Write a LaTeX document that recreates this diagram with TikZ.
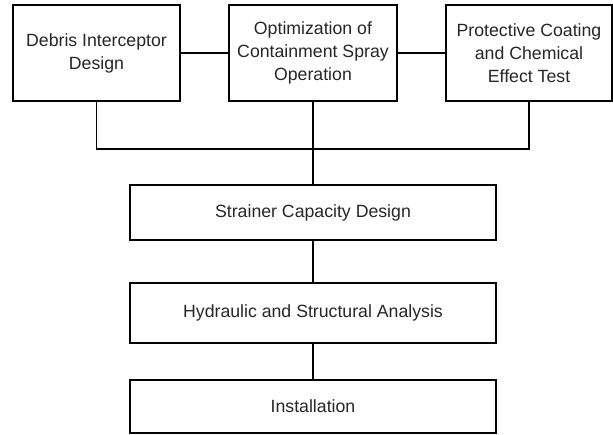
\documentclass[tikz,border=0pt]{standalone}
\usepackage{fontspec}
\setmainfont{Liberation Sans}
\usepackage{tikz}

\begin{document}
\begin{tikzpicture}[x=1pt,y=-1pt]
\tikzstyle{every node}+=[inner sep=0pt, font=\fontsize{17.7}{23}\selectfont]
\tikzstyle{stagebox}=[draw, line width=1.1pt, align=center, text=black!85]
\tikzstyle{link}=[line width=1.1pt]
\useasboundingbox (0,0) rectangle (613,434);
% three inputs on top
\node [stagebox, minimum width=167pt, minimum height=96pt] (debris) at (96.5,53) {Debris Interceptor\\Design};
\node [stagebox, minimum width=168pt, minimum height=96pt] (spray) at (313,53) {Optimization of\\Containment Spray\\Operation};
\node [stagebox, minimum width=166pt, minimum height=96pt] (coating) at (529,53) {Protective Coating\\and Chemical\\Effect Test};
% main chain
\node [stagebox, minimum width=366pt, minimum height=55pt] (strainer) at (313,212.5) {Strainer Capacity Design};
\node [stagebox, minimum width=366pt, minimum height=60pt] (analysis) at (313,313) {Hydraulic and Structural Analysis};
\node [stagebox, minimum width=366pt, minimum height=53pt] (install) at (313,406.5) {Installation};
\coordinate (busL) at (debris.south |- 0,149);
\coordinate (busR) at (coating.south |- 0,149);
\draw [link] (debris) -- (spray);
\draw [link] (spray) -- (coating);
\draw [link] (debris.south) -- (busL) -- (busR) -- (coating.south);
\draw [link] (spray.south) -- (strainer.north);
\draw [link] (strainer) -- (analysis);
\draw [link] (analysis) -- (install);
\end{tikzpicture}
\end{document}
